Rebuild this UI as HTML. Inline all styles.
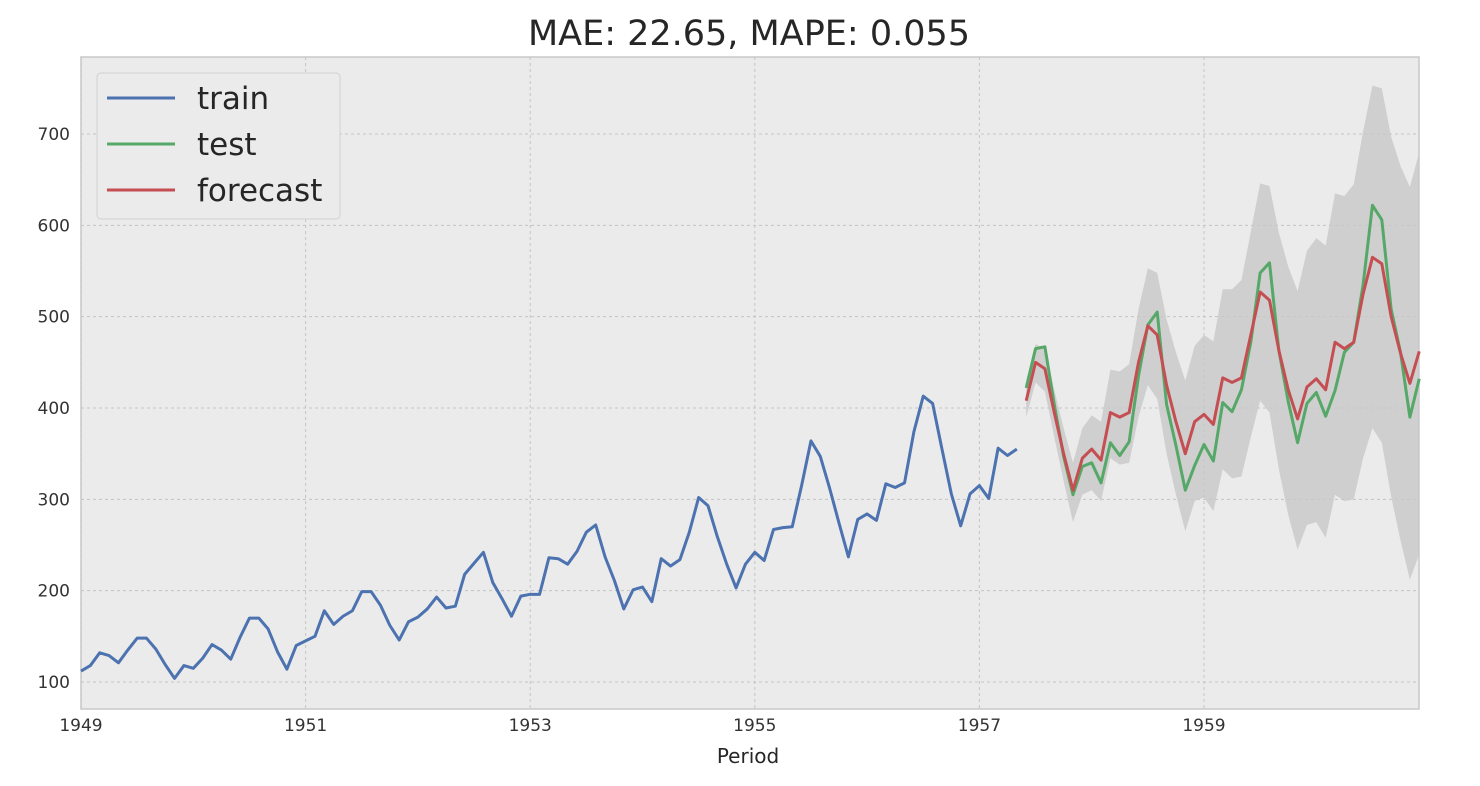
<!DOCTYPE html>
<html><head><meta charset="utf-8"><style>
body{margin:0;background:#fff;width:1480px;height:782px;overflow:hidden;font-family:"DejaVu Sans","Liberation Sans",sans-serif}
</style></head><body>
<svg id="chart" width="1480" height="782" xmlns="http://www.w3.org/2000/svg" font-family="DejaVu Sans, Liberation Sans, sans-serif">
<text x="749" y="45" text-anchor="middle" font-size="35" fill="#262626">MAE: 22.65, MAPE: 0.055</text>
<rect x="81" y="57" width="1338" height="652" fill="#ebebeb" stroke="#c8c8c8" stroke-width="1.5"/>
<g id="grid"></g><g id="marks"></g><g id="ticks"></g>
<text x="748" y="763" text-anchor="middle" font-size="20" fill="#262626">Period</text>
<g>
<rect x="97" y="73" width="243" height="146" rx="4" fill="#ebebeb" stroke="#d0d0d0"/>
<g><line x1="107" y1="98" x2="175" y2="98" stroke="#4c72b0" stroke-width="3"/><text x="197" y="109" font-size="31" fill="#262626">train</text></g>
<g><line x1="107" y1="144" x2="175" y2="144" stroke="#55a868" stroke-width="3"/><text x="197" y="155" font-size="31" fill="#262626">test</text></g>
<g><line x1="107" y1="190" x2="175" y2="190" stroke="#c44e52" stroke-width="3"/><text x="197" y="201" font-size="31" fill="#262626">forecast</text></g>
</g>
</svg>
<script>
const trainValues=[112,118,132,129,121,135,148,148,136,119,104,118,115,126,141,135,125,149,170,170,158,133,114,140,145,150,178,163,172,178,199,199,184,162,146,166,171,180,193,181,183,218,230,242,209,191,172,194,196,196,236,235,229,243,264,272,237,211,180,201,204,188,235,227,234,264,302,293,259,229,203,229,242,233,267,269,270,315,364,347,312,274,237,278,284,277,317,313,318,374,413,405,355,306,271,306,315,301,356,348,355];
const testValues=[422,465,467,404,347,305,336,340,318,362,348,363,435,491,505,404,359,310,337,360,342,406,396,420,472,548,559,463,407,362,405,417,391,419,461,472,535,622,606,508,461,390,432];
const forecastValues=[408,450,443,395,350,310,345,355,343,395,390,395,450,490,480,425,385,350,385,393,382,433,428,433,480,527,518,463,420,388,423,432,420,472,465,472,525,565,558,500,460,427,462];
const upperValues=[430,470,465,420,378,340,378,392,385,442,440,448,508,553,548,497,461,430,468,480,473,530,530,540,593,646,643,592,555,528,572,586,578,635,632,645,703,753,750,697,665,642,680];
const lowerValues=[390,428,418,368,320,275,305,310,298,345,338,340,390,425,410,350,305,265,298,302,287,333,323,325,368,408,395,333,283,245,272,275,258,305,298,300,345,378,362,303,255,212,240];
const yTicks=[100,200,300,400,500,600,700];
const xTicks=[1949,1951,1953,1955,1957,1959];
const testStart=1957+5/12;
const X=t=>81+(t-1949)*112.3;
const Y=v=>682-(v-100)*0.9133;
const NS="http://www.w3.org/2000/svg";
function mk(tag,attrs,parent){const e=document.createElementNS(NS,tag);for(const k in attrs)e.setAttribute(k,attrs[k]);parent.appendChild(e);return e;}
const grid=document.getElementById('grid'),marks=document.getElementById('marks'),ticks=document.getElementById('ticks');
yTicks.forEach(v=>{
 const l=mk('line',{x1:81,x2:1419,y1:Y(v),y2:Y(v),stroke:'#c4c4c4','stroke-dasharray':'3,3'},grid);
 
 
 const t=mk('text',{x:70,y:Y(v)+6,'text-anchor':'end','font-size':17,fill:'#333'},ticks);t.textContent=v;
 
 
});
xTicks.forEach(v=>{
 const l=mk('line',{x1:X(v),x2:X(v),y1:57,y2:709,stroke:'#c4c4c4','stroke-dasharray':'3,3'},grid);
 
 
 const t=mk('text',{x:X(v),y:731,'text-anchor':'middle','font-size':17,fill:'#333'},ticks);t.textContent=v;
 
 
});
let band=upperValues.map((v,i)=>X(testStart+i/12)+','+Y(v));
band=band.concat(lowerValues.map((v,i)=>X(testStart+i/12)+','+Y(v)).reverse());
const b=mk('polygon',{points:band.join(' '),fill:'#c8c8c8','fill-opacity':0.8},marks);


function line(vals,start,color,name){
 const p=mk('polyline',{points:vals.map((v,i)=>X(start+i/12)+','+Y(v)).join(' '),fill:'none',stroke:color,'stroke-width':3,'stroke-linejoin':'round'},marks);
 
 
}
line(trainValues,1949,'#4c72b0','train-line');
line(testValues,testStart,'#55a868','test-line');
line(forecastValues,testStart,'#c44e52','forecast-line');
</script>
</body></html>
